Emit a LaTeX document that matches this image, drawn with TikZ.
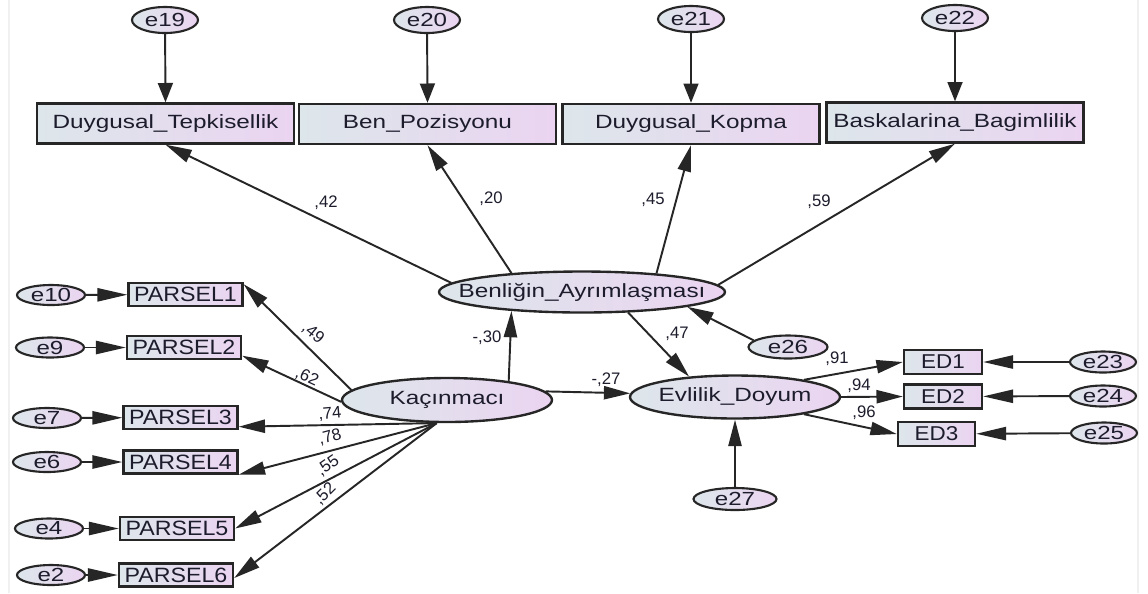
\documentclass[tikz,border=0pt]{standalone}
\usepackage{fontspec}
\setmainfont[FakeStretch=1.27]{Liberation Sans}
\newfontfamily\numfont{Liberation Sans}
\newfontfamily\pfont[FakeStretch=1.12]{Liberation Sans}
\usetikzlibrary{arrows.meta,shapes.geometric}
\definecolor{lb}{HTML}{DDE6EB}
\definecolor{lp}{HTML}{EBD4F1}
\definecolor{txt}{HTML}{1C1C2C}
\definecolor{edge}{HTML}{262626}
\begin{document}
\begin{tikzpicture}[x=0.02cm,y=-0.02cm,
  base/.style={draw=edge, line width=1.35pt, left color=lb, right color=lp, text=txt, inner sep=0pt,
               font=\fontsize{10.9}{12}\selectfont},
  bigbox/.style={base, rectangle, minimum width=5.14cm, minimum height=0.8cm},
  pbox/.style={base, rectangle, minimum width=2.28cm, minimum height=0.46cm, font=\pfont\fontsize{11.8}{12}\selectfont},
  edbox/.style={base, rectangle, minimum width=1.56cm, minimum height=0.48cm, font=\pfont\fontsize{11.4}{12}\selectfont},
  lat/.style={base, ellipse},
  err/.style={base, ellipse, line width=1.2pt, font=\fontsize{10.8}{12}\selectfont},
  arr/.style={draw=edge, line width=1.1pt, -{Triangle[length=15pt,width=7.5pt]}},
  arrl/.style={draw=edge, line width=1.1pt, -{Triangle[length=17pt,width=7.5pt]}},
  arrs/.style={draw=edge, line width=1.1pt, -{Triangle[length=11pt,width=8.5pt]}},
  coef/.style={font=\numfont\fontsize{9.5}{11}\selectfont, text=txt, inner sep=0pt}]
\useasboundingbox (0,0) rectangle (1148,593);
\fill[white] (0,0) rectangle (1148,593);
\draw[gray!12, line width=0.6pt] (9,0) -- (9,593);
\draw[gray!12, line width=0.6pt] (1138,0) -- (1138,593);

% top observed
\node[bigbox] (dt) at (165.5,123.5) {Duygusal\_Tepkisellik};
\node[bigbox] (bp) at (427.5,124) {Ben\_Pozisyonu};
\node[bigbox] (dk) at (691,124) {Duygusal\_Kopma};
\node[bigbox] (bb) at (955,122.5) {Baskalarina\_Bagimlilik};

% top errors
\node[err, minimum width=1.32cm, minimum height=0.52cm] (e19) at (165,20) {\makebox[0pt]{e19}};
\node[err, minimum width=1.32cm, minimum height=0.52cm] (e20) at (427,20) {\makebox[0pt]{e20}};
\node[err, minimum width=1.32cm, minimum height=0.52cm] (e21) at (691,19) {\makebox[0pt]{e21}};
\node[err, minimum width=1.32cm, minimum height=0.52cm] (e22) at (955,18) {\makebox[0pt]{e22}};

% latent
\node[lat, minimum width=5.72cm, minimum height=0.82cm] (ben) at (582,292) {\makebox[0pt]{Benliğin\_Ayrımlaşması}};
\node[lat, minimum width=4.2cm, minimum height=0.88cm] (kac) at (447,400) {\makebox[0pt]{Kaçınmacı}};
\node[lat, minimum width=4.2cm, minimum height=0.86cm] (evl) at (735,397) {\makebox[0pt]{Evlilik\_Doyum}};

% parsels
\node[pbox] (p1) at (185.5,294.5) {PARSEL1};
\node[pbox] (p2) at (184,347.5) {PARSEL2};
\node[pbox] (p3) at (180.5,417.5) {PARSEL3};
\node[pbox] (p4) at (180.5,462) {PARSEL4};
\node[pbox] (p5) at (177,528.5) {PARSEL5};
\node[pbox] (p6) at (176,575) {PARSEL6};

\node[err, minimum width=1.36cm, minimum height=0.4cm] (e10) at (51,295) {\makebox[0pt]{e10}};
\node[err, minimum width=1.36cm, minimum height=0.4cm] (e9) at (50,347.5) {\makebox[0pt]{e9}};
\node[err, minimum width=1.36cm, minimum height=0.4cm] (e7) at (47,418) {\makebox[0pt]{e7}};
\node[err, minimum width=1.36cm, minimum height=0.4cm] (e6) at (47,462) {\makebox[0pt]{e6}};
\node[err, minimum width=1.36cm, minimum height=0.4cm] (e4) at (49,528.5) {\makebox[0pt]{e4}};
\node[err, minimum width=1.36cm, minimum height=0.4cm] (e2) at (51,575) {\makebox[0pt]{e2}};

% ED
\node[edbox] (ed1) at (943,362) {ED1};
\node[edbox] (ed2) at (943,396.5) {ED2};
\node[edbox, minimum width=1.54cm] (ed3) at (936.5,434) {ED3};
\node[err, minimum width=1.32cm, minimum height=0.42cm] (e23) at (1103,362) {\makebox[0pt]{e23}};
\node[err, minimum width=1.32cm, minimum height=0.42cm] (e24) at (1103,396) {\makebox[0pt]{e24}};
\node[err, minimum width=1.32cm, minimum height=0.42cm] (e25) at (1104,433) {\makebox[0pt]{e25}};

\node[err, minimum width=1.58cm, minimum height=0.46cm] (e26) at (788,347) {\makebox[0pt]{e26}};
\node[err, minimum width=1.66cm, minimum height=0.44cm] (e27) at (735,499) {\makebox[0pt]{e27}};

% error arrows top
\draw[arrs] (e19) -- (dt.north);
\draw[arrs] (e20) -- (bp.north);
\draw[arrs] (e21) -- (dk.north);
\draw[arrs] (e22) -- (bb.north);

% Benligin -> top
\draw[arr] (ben.176.4) -- (dt.south);
\draw[arr] (ben.165) -- (bp.south);
\draw[arr] (ben.14.8) -- (dk.south);
\draw[arr] (ben.3.2) -- (bb.south);

% Kacinmaci -> parsels
\draw[arr] (kac.174) -- (p1.10);
\draw[arr] (kac.181) -- (p2.352);
\draw[arr] (kac.246) -- (p3.351);
\draw[arr] (kac.246) -- (p4.south east);
\draw[arr] (kac.246) -- (p5.east);
\draw[arr] (kac.246) -- (p6.357);

% errors -> parsels
\draw[arrl] (e10) -- (p1);
\draw[arrl] (e9) -- (p2);
\draw[arrl] (e7) -- (p3);
\draw[arrl] (e6) -- (p4);
\draw[arrl] (e4) -- (p5);
\draw[arrl] (e2) -- (p6);

% structural
\draw[arr] (kac.17) -- (ben.195);
\draw[arr] (kac.5) -- (evl.178);
\draw[arr] (ben.336.6) -- (evl.156);
\draw[arr] (e26.169) -- (ben.352);
\draw[arr] (e27) -- (evl.south);

% Evlilik -> ED
\draw[arr] (evl.14.6) -- (ed1.west);
\draw[arr] (evl.east) -- (ed2.west);
\draw[arr] (evl.346) -- (ed3.west);
\draw[arrl] (e23) -- (ed1);
\draw[arrl] (e24) -- (ed2);
\draw[arrl] (e25) -- (ed3);

% coefficients
\node[coef] (c42) at (326,203) {,42};
\node[coef] (c20) at (491,199) {,20};
\node[coef] (c45) at (653,200) {,45};
\node[coef] (c59) at (819,202) {,59};
\node[coef, rotate=-40] (c49) at (313,333) {,49};
\node[coef, rotate=-25] (c62) at (307,377) {,62};
\node[coef, rotate=5] (c74) at (330,414) {,74};
\node[coef, rotate=15] (c78) at (330,437) {,78};
\node[coef, rotate=35] (c55) at (328,466) {,55};
\node[coef, rotate=45] (c52) at (325,494) {,52};
\node[coef] (c30) at (487,338) {-,30};
\node[coef] (c47) at (677,334) {,47};
\node[coef] (c27) at (606,380) {-,27};
\node[coef] (c91) at (837,359) {,91};
\node[coef] (c94) at (859,386) {,94};
\node[coef] (c96) at (864,413) {,96};
\end{tikzpicture}
\end{document}
